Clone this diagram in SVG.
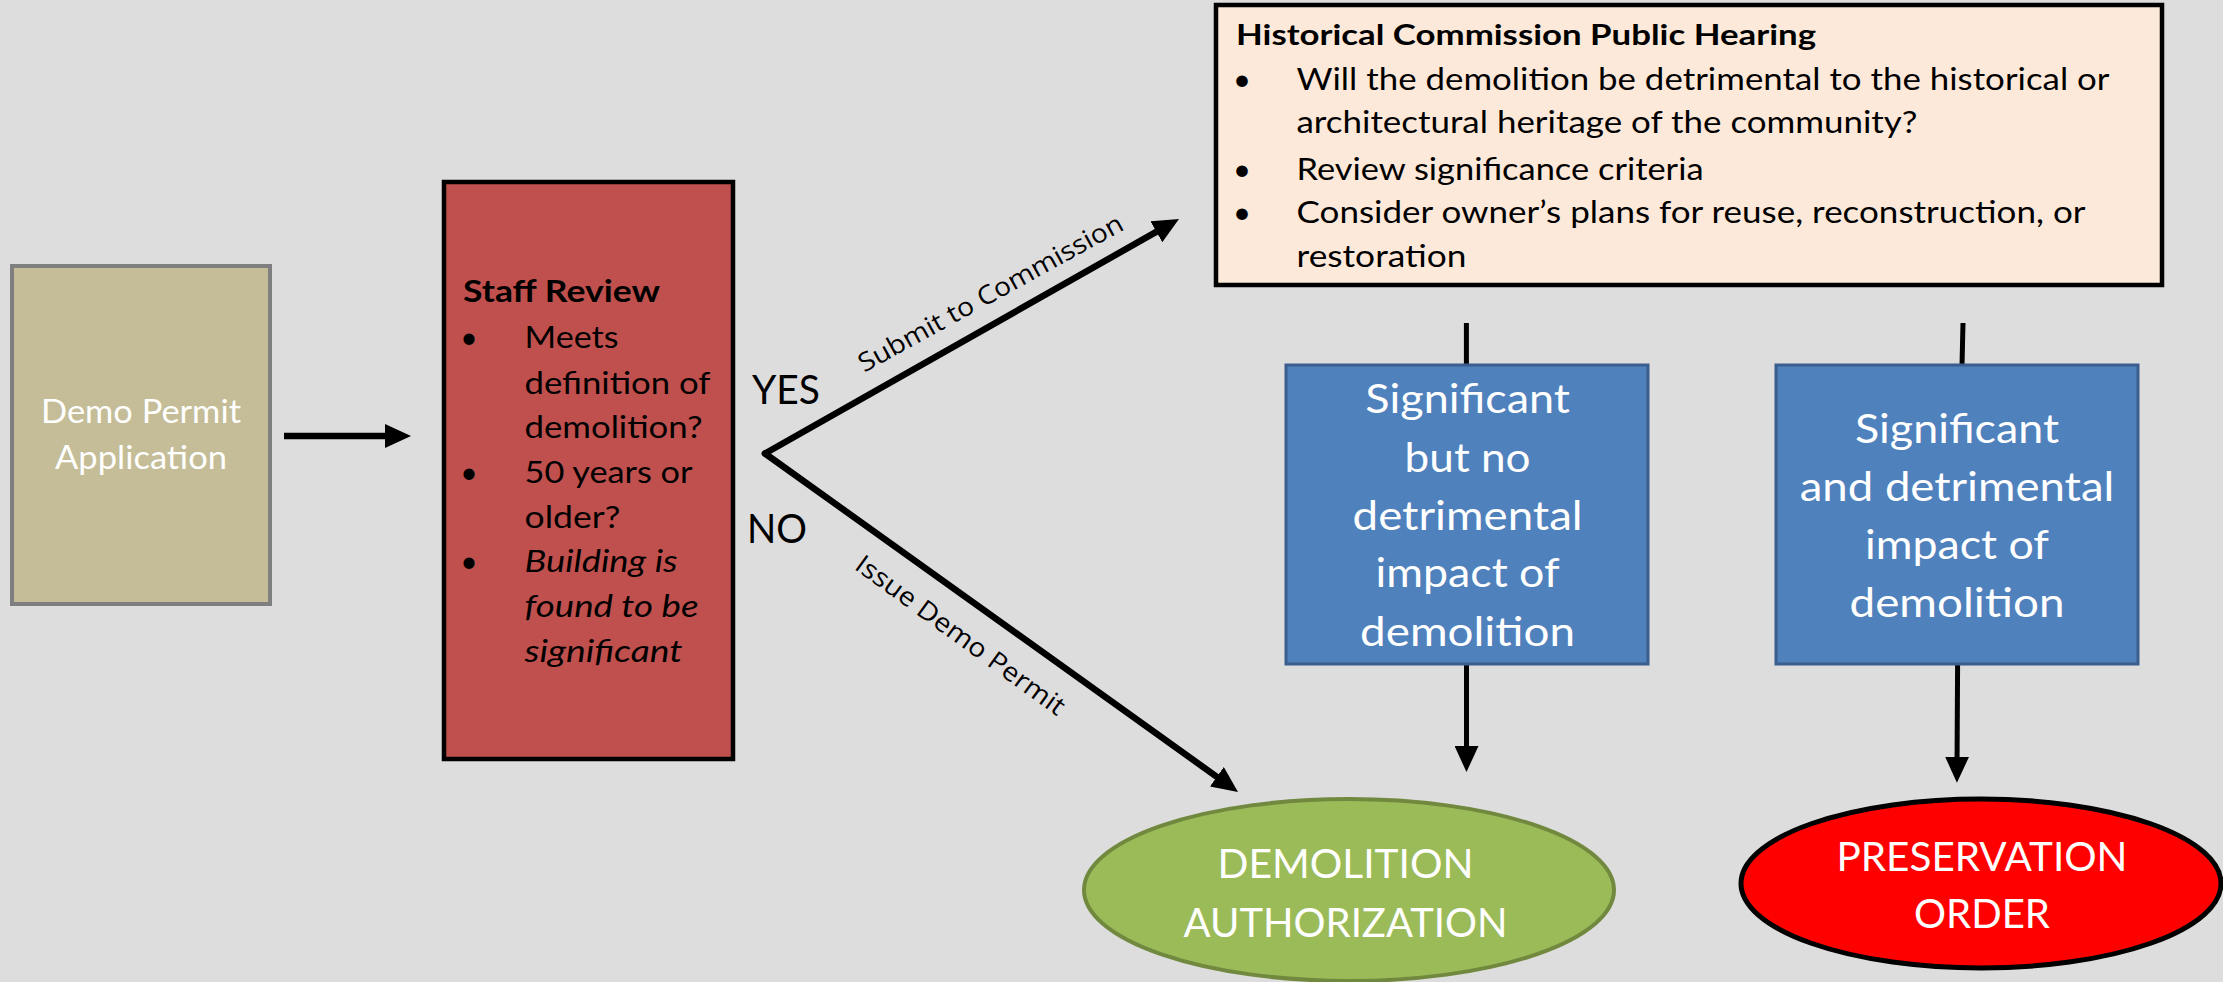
<svg xmlns="http://www.w3.org/2000/svg" width="2223" height="982" viewBox="0 0 2223 982">
<defs>
<style>
text{font-family:Lato,"Open Sans","Liberation Sans",sans-serif;}
.w{fill:#ffffff;}
.k{fill:#000000;}
.c{text-anchor:middle;}
.big{font-size:40px;}
.bul{font-size:30px;}
.hb{font-size:31px;}
.lbl{font-family:"Open Sans","DejaVu Sans",sans-serif;font-size:26px;fill:#000;}
.conn{stroke:#000;fill:none;}
.thick{stroke-width:6.5;}
.thin{stroke-width:5;}
</style>
<marker id="ah" viewBox="0 0 26 24" refX="12" refY="12" markerWidth="26" markerHeight="24" markerUnits="userSpaceOnUse" orient="auto">
<path d="M0,0 L26,12 L0,24 z" fill="#000"/>
</marker>
</defs>
<rect x="0" y="0" width="2223" height="982" fill="#dddddd"/>

<g id="connectors">
<line class="conn thick" x1="284" y1="436" x2="397" y2="436" marker-end="url(#ah)"/>
<line class="conn thick" x1="765" y1="453.5" x2="1166.8" y2="225.9" stroke-linecap="round" marker-end="url(#ah)"/>
<line class="conn thick" x1="765" y1="453.5" x2="1226.6" y2="783.8" stroke-linecap="round" marker-end="url(#ah)"/>
<line class="conn thin" x1="1466.4" y1="323" x2="1466.4" y2="366"/>
<line class="conn thin" x1="1963" y1="323" x2="1962" y2="366"/>
<line class="conn thin" x1="1466.5" y1="664" x2="1466.5" y2="758" marker-end="url(#ah)"/>
<line class="conn thin" x1="1957.6" y1="664" x2="1957" y2="768.7" marker-end="url(#ah)"/>
<text class="lbl" transform="translate(765,453.5) rotate(-28.8)" x="126" y="-23" textLength="298" lengthAdjust="spacingAndGlyphs">Submit to Commission</text>
<text class="lbl" transform="translate(765,453.5) rotate(36)" x="139" y="41" textLength="252" lengthAdjust="spacingAndGlyphs">Issue Demo Permit</text>
<text class="k" x="752" y="403.7" font-size="40" textLength="68" lengthAdjust="spacingAndGlyphs">YES</text>
<text class="k" x="747" y="543" font-size="40" textLength="60" lengthAdjust="spacingAndGlyphs">NO</text>
</g>

<g id="demo-permit">
<rect x="12" y="266" width="258" height="338" fill="#c4bd97" stroke="#7f7f7f" stroke-width="4"/>
<text class="w c" x="141" y="423" font-size="32" textLength="200" lengthAdjust="spacingAndGlyphs">Demo Permit</text>
<text class="w c" x="141" y="468.5" font-size="32" textLength="172" lengthAdjust="spacingAndGlyphs">Application</text>
</g>

<g id="staff-review">
<rect x="444" y="182" width="289" height="577" fill="#c0504d" stroke="#000" stroke-width="4.5"/>
<text class="k" x="463" y="302" font-size="30" font-weight="bold" textLength="197" lengthAdjust="spacingAndGlyphs">Staff Review</text>
<text class="k c bul" x="469" y="348">•</text>
<text class="k c bul" x="469" y="483">•</text>
<text class="k c bul" x="469" y="572">•</text>
<text class="k bul" x="524.5" y="348" textLength="94" lengthAdjust="spacingAndGlyphs">Meets</text>
<text class="k bul" x="524.5" y="394" textLength="186" lengthAdjust="spacingAndGlyphs">definition of</text>
<text class="k bul" x="524.5" y="438" textLength="178" lengthAdjust="spacingAndGlyphs">demolition?</text>
<text class="k bul" x="524.5" y="483" textLength="168" lengthAdjust="spacingAndGlyphs">50 years or</text>
<text class="k bul" x="524.5" y="528" textLength="96" lengthAdjust="spacingAndGlyphs">older?</text>
<text class="k bul" x="524.5" y="572" font-style="italic" textLength="153" lengthAdjust="spacingAndGlyphs">Building is</text>
<text class="k bul" x="524.5" y="617" font-style="italic" textLength="174" lengthAdjust="spacingAndGlyphs">found to be</text>
<text class="k bul" x="524.5" y="662" font-style="italic" textLength="158" lengthAdjust="spacingAndGlyphs">significant</text>
</g>

<g id="public-hearing">
<rect x="1216" y="5" width="946" height="280" fill="#fde9d9" stroke="#000" stroke-width="4.5"/>
<text class="k" x="1236" y="45" font-size="28" font-weight="bold" textLength="580" lengthAdjust="spacingAndGlyphs">Historical Commission Public Hearing</text>
<text class="k c hb" x="1242" y="90">•</text>
<text class="k c hb" x="1242" y="180">•</text>
<text class="k c hb" x="1242" y="223">•</text>
<text class="k hb" x="1296.5" y="90" textLength="813" lengthAdjust="spacingAndGlyphs">Will the demolition be detrimental to the historical or</text>
<text class="k hb" x="1296.5" y="133" textLength="621" lengthAdjust="spacingAndGlyphs">architectural heritage of the community?</text>
<text class="k hb" x="1296.5" y="180" textLength="407" lengthAdjust="spacingAndGlyphs">Review significance criteria</text>
<text class="k hb" x="1296.5" y="223" textLength="789" lengthAdjust="spacingAndGlyphs">Consider owner’s plans for reuse, reconstruction, or</text>
<text class="k hb" x="1296.5" y="267" textLength="170" lengthAdjust="spacingAndGlyphs">restoration</text>
</g>

<g id="no-detrimental">
<rect x="1286" y="365" width="362" height="299" fill="#4f81bd" stroke="#3a5f8e" stroke-width="3"/>
<text class="w c big" x="1467.6" y="413" textLength="204.5" lengthAdjust="spacingAndGlyphs">Significant</text>
<text class="w c big" x="1467.6" y="471.7" textLength="126" lengthAdjust="spacingAndGlyphs">but no</text>
<text class="w c big" x="1467.6" y="530" textLength="230" lengthAdjust="spacingAndGlyphs">detrimental</text>
<text class="w c big" x="1467.6" y="587" textLength="184" lengthAdjust="spacingAndGlyphs">impact of</text>
<text class="w c big" x="1467.6" y="646" textLength="215" lengthAdjust="spacingAndGlyphs">demolition</text>
</g>

<g id="detrimental">
<rect x="1776" y="365" width="362" height="299" fill="#4f81bd" stroke="#3a5f8e" stroke-width="3"/>
<text class="w c big" x="1957" y="443" textLength="204" lengthAdjust="spacingAndGlyphs">Significant</text>
<text class="w c big" x="1957" y="501" textLength="314.5" lengthAdjust="spacingAndGlyphs">and detrimental</text>
<text class="w c big" x="1957" y="559" textLength="184" lengthAdjust="spacingAndGlyphs">impact of</text>
<text class="w c big" x="1957" y="617" textLength="215" lengthAdjust="spacingAndGlyphs">demolition</text>
</g>

<g id="demolition-authorization">
<ellipse cx="1349" cy="890" rx="265" ry="91" fill="#9bbb59" stroke="#71893f" stroke-width="4"/>
<text class="w c big" x="1345.6" y="878" textLength="256" lengthAdjust="spacingAndGlyphs">DEMOLITION</text>
<text class="w c big" x="1345.6" y="936.7" textLength="324" lengthAdjust="spacingAndGlyphs">AUTHORIZATION</text>
</g>

<g id="preservation-order">
<ellipse cx="1981" cy="883.5" rx="240" ry="84.5" fill="#ff0000" stroke="#000" stroke-width="5"/>
<text class="w c big" x="1982" y="870.7" textLength="291" lengthAdjust="spacingAndGlyphs">PRESERVATION</text>
<text class="w c big" x="1982" y="928" textLength="136" lengthAdjust="spacingAndGlyphs">ORDER</text>
</g>
</svg>
